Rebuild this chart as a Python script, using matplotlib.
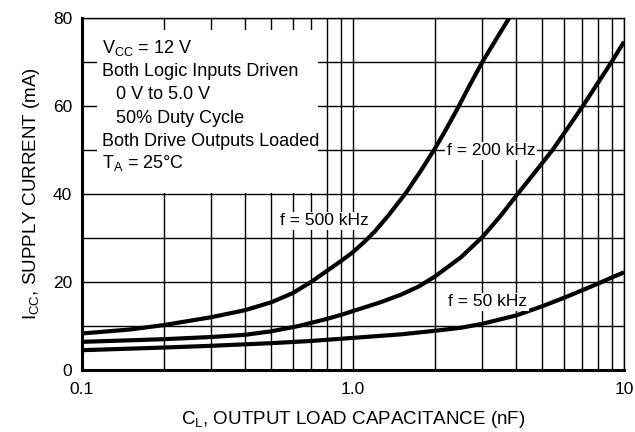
import matplotlib
matplotlib.use("Agg")
import matplotlib.pyplot as plt
from matplotlib.ticker import MultipleLocator, NullFormatter, LogLocator
from matplotlib.patches import Rectangle

plt.rcParams['font.family'] = ['Liberation Sans', 'DejaVu Sans']
plt.rcParams['mathtext.fontset'] = 'custom'
plt.rcParams['mathtext.rm'] = 'Liberation Sans'
plt.rcParams['mathtext.it'] = 'Liberation Sans'
plt.rcParams['mathtext.default'] = 'rm'

# Data
cap_500 = [0.1, 0.15, 0.2, 0.3, 0.4, 0.5, 0.6, 0.7, 0.8, 0.9, 1.0, 1.1, 1.2, 1.35, 1.57,
           1.78, 2.0, 2.2, 2.42, 2.7, 3.0, 3.4, 3.77]
icc_500 = [8.3, 9.2, 10.2, 12.0, 13.6, 15.4, 17.5, 20.0, 22.5, 24.7, 26.8, 29.1, 31.4, 35.1, 40.3,
           45.3, 50.2, 54.6, 59.2, 64.8, 70.0, 75.5, 80.0]

cap_200 = [0.1, 0.2, 0.3, 0.4, 0.5, 0.63, 0.7, 0.8, 0.9, 1.0, 1.25, 1.5, 1.75, 2.0, 2.5,
           3.0, 3.5, 4.05, 4.7, 5.45, 6.2, 7.05, 8.0, 9.0, 10.0]
icc_200 = [6.4, 7.0, 7.5, 8.0, 8.8, 10.0, 10.7, 11.6, 12.5, 13.4, 15.3, 17.1, 19.0, 21.2, 25.6,
           30.2, 35.0, 40.0, 45.0, 50.0, 55.0, 60.0, 65.2, 70.0, 74.6]

cap_50 = [0.1, 0.2, 0.3, 0.5, 0.7, 1.0, 1.5, 2.0, 2.5, 3.0, 4.0, 5.0, 6.0, 7.0, 8.0, 9.0, 10.0]
icc_50 = [4.5, 5.1, 5.5, 6.1, 6.6, 7.3, 8.1, 8.9, 9.6, 10.5, 12.4, 14.5, 16.4, 18.1, 19.6, 21.0, 22.2]

x_ticks = [0.1, 1.0, 10]
x_tick_labels = ['0.1', '1.0', '10']
y_ticks = [0, 20, 40, 60, 80]

curve_labels = ['f = 500 kHz', 'f = 200 kHz', 'f = 50 kHz']
curve_label_pos = [(0.782, 33.9), (3.23, 49.8), (3.15, 15.5)]

note_lines = [r'V$_{\mathrm{CC}}$ = 12 V', 'Both Logic Inputs Driven', '0 V to 5.0 V',
              '50% Duty Cycle', 'Both Drive Outputs Loaded', r'T$_{\mathrm{A}}$ = 25°C']
note_x = [0.037, 0.037, 0.0627, 0.0627, 0.037, 0.037]
note_y = [0.9006, 0.835, 0.770, 0.703, 0.636, 0.574]

fig = plt.figure(figsize=(6.35, 4.32), dpi=100)
ax = fig.add_axes([82/635, 1-370/432, 542/635, 352/432])

ax.set_xscale('log')
ax.set_xlim(0.1, 10)
ax.set_ylim(0, 80)
ax.set_axisbelow(True)

ax.xaxis.set_minor_locator(LogLocator(base=10, subs=range(2, 10)))
ax.xaxis.set_minor_formatter(NullFormatter())
ax.set_xticks(x_ticks, labels=x_tick_labels)
ax.set_yticks(y_ticks)
ax.yaxis.set_minor_locator(MultipleLocator(10))

ax.grid(True, which='both', color='black', linewidth=1.0)
ax.tick_params(which='both', length=0, labelsize=12.5, colors='black')
ax.tick_params(axis='y', pad=7)
ax.tick_params(axis='x', pad=9)

for s in ['left', 'bottom']:
    ax.spines[s].set_linewidth(2.2)
for s in ['top', 'right']:
    ax.spines[s].set_linewidth(1.0)

for cx, cy in [(cap_500, icc_500), (cap_200, icc_200), (cap_50, icc_50)]:
    ax.plot(cx, cy, color='black', lw=3.0, solid_capstyle='butt',
            solid_joinstyle='round', zorder=3)

# white note box
ax.add_patch(Rectangle((15/542, 1-(193-18)/352), (318-97)/542, (193-30)/352,
                       transform=ax.transAxes, facecolor='white', edgecolor='none', zorder=1))
for t, xx, yy in zip(note_lines, note_x, note_y):
    ax.text(xx, yy, t, transform=ax.transAxes, fontsize=13, ha='left', va='baseline', zorder=4)

for t, (xx, yy) in zip(curve_labels, curve_label_pos):
    ax.text(xx, yy, t, fontsize=12.5, ha='center', va='center', zorder=4,
            bbox=dict(facecolor='white', edgecolor='none', pad=1.0))

ax.set_xlabel(r'C$_{\mathrm{L}}$, OUTPUT LOAD CAPACITANCE (nF)', fontsize=13.5, labelpad=8)
ax.set_ylabel(r'I$_{\mathrm{CC}}$, SUPPLY CURRENT (mA)', fontsize=13.5, labelpad=8)

fig.savefig('out.png', dpi=100)
